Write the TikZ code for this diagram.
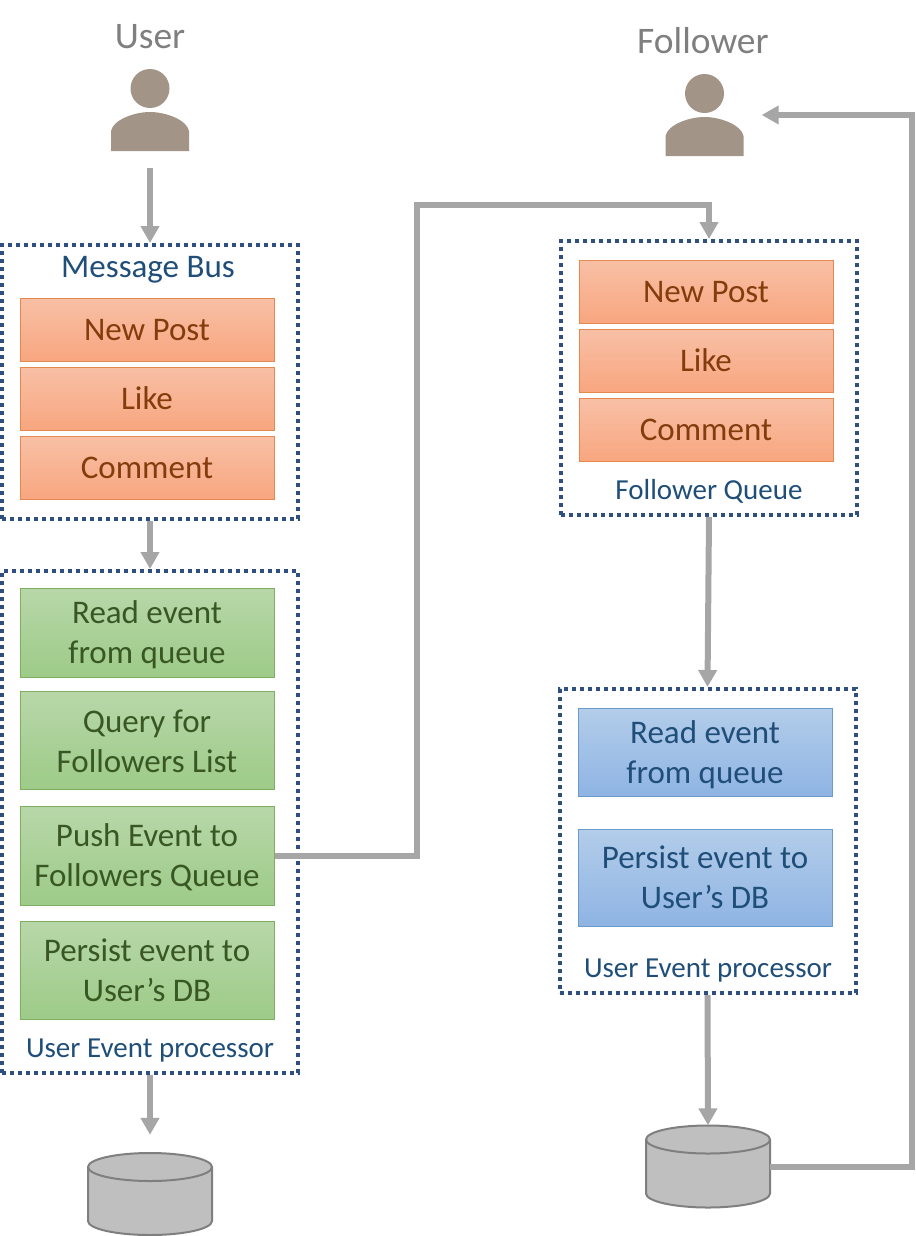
\documentclass[tikz,border=0pt]{standalone}
\usepackage{fontspec}
\setmainfont{Carlito}
\usetikzlibrary{arrows.meta,positioning}
\definecolor{FlowGray}{HTML}{A6A6A6}
\definecolor{PersonTaupe}{HTML}{A29588}
\definecolor{TitleGray}{HTML}{7F7F7F}
\definecolor{FrameNavy}{HTML}{2F4F80}
\definecolor{LabelNavy}{HTML}{1F4E79}
\definecolor{QueueTop}{HTML}{F8C0A6}
\definecolor{QueueLow}{HTML}{F8A67F}
\definecolor{QueueEdge}{HTML}{E5884F}
\definecolor{QueueText}{HTML}{843C0C}
\definecolor{StepTop}{HTML}{B8D7A9}
\definecolor{StepLow}{HTML}{9DCB88}
\definecolor{StepEdge}{HTML}{7FAE62}
\definecolor{StepText}{HTML}{385723}
\definecolor{BlueTop}{HTML}{B3CDEA}
\definecolor{BlueLow}{HTML}{8FB4E3}
\definecolor{BlueEdge}{HTML}{6C9BCB}
\definecolor{DbFill}{HTML}{BFBFBF}
\definecolor{DbEdge}{HTML}{7F7F7F}
\tikzset{
  flow/.style={line width=6pt,FlowGray,-{Triangle[length=17pt,width=18pt]}},
  frame/.style={draw=FrameNavy,line width=4pt,dash pattern=on 4pt off 4pt,minimum width=296pt},
  card/.style={draw,line width=1pt,minimum width=254pt,align=center,font=\fontsize{33}{40}\selectfont},
  lift/.style={execute at begin node={\rule{0pt}{#1pt}}},
  queuecard/.style={card,draw=QueueEdge,top color=QueueTop,bottom color=QueueLow,text=QueueText,minimum height=63pt},
  stepcard/.style={card,draw=StepEdge,top color=StepTop,bottom color=StepLow,text=StepText},
  bluecard/.style={card,draw=BlueEdge,top color=BlueTop,bottom color=BlueLow,text=LabelNavy},
  framelabel/.style={text=LabelNavy,font=\fontsize{29}{34}\selectfont},
  title/.style={text=TitleGray,font=\fontsize{37.5}{44}\selectfont},
  iconbox/.style={minimum width=78pt,minimum height=82pt,inner sep=0pt},
  storebox/.style={minimum width=124pt,minimum height=82pt,inner sep=0pt},
  personicon/.pic={\fill[PersonTaupe] (0,-21.5) circle (19.5);
    \fill[PersonTaupe] (-39,41) -- (-39,21) .. controls (-37,10) and (-16,2) .. (0,2) .. controls (16,2) and (37,10) .. (39,21) -- (39,41) -- cycle;},
  storeicon/.pic={\draw[DbEdge,line width=2pt,fill=DbFill] (-62,-27) arc (180:360:62 and 14) -- (62,27) arc (0:180:62 and 14) -- cycle;
    \draw[DbEdge,line width=2pt] (-62,-27) arc (180:0:62 and 14);}
}
\begin{document}
\begin{tikzpicture}[x=1pt,y=-1pt]
\useasboundingbox (0,0) rectangle (915,1236);
\node[title] (userTitle) at (150,37) {User};
\node[title] (followerTitle) at (703,41) {Follower};
\node[iconbox] (user) at (150,110) {};
\pic at (user) {personicon};
\node[iconbox] (follower) at (704.5,115) {};
\pic at (follower) {personicon};

\node[frame,minimum height=274pt] (bus) at (150,382) {};
\node[framelabel,font=\fontsize{33}{38}\selectfont] (busLabel) at (148,270) {Message Bus};
\node[queuecard,lift=23] (busPost) at (147,329.5) {New Post};
\node[queuecard] (busLike) at (147,398.5) {Like};
\node[queuecard] (busComment) at (147,467.5) {Comment};

\node[frame,minimum height=502pt] (userProc) at (150,822) {};
\node[stepcard,lift=67,minimum height=89pt] (userRead) at (147,632.5) {Read event\\from queue};
\node[stepcard,lift=65,minimum height=98pt] (userQuery) at (147,740) {Query for\\Followers List};
\node[stepcard,lift=67,minimum height=99pt] (userPush) at (147,855.5) {Push Event to\\Followers Queue};
\node[stepcard,minimum height=98pt] (userPersist) at (147,970) {Persist event to\\User’s DB};
\node[framelabel] (userProcLabel) at (150,1051) {User Event processor};
\node[storebox] (userDb) at (150,1194) {};
\pic at (userDb) {storeicon};

\node[frame,minimum height=274pt] (followerQueue) at (709,378) {};
\node[queuecard,lift=23] (followerPost) at (706,291.5) {New Post};
\node[queuecard] (followerLike) at (706,360.5) {Like};
\node[queuecard] (followerComment) at (706,429.5) {Comment};
\node[framelabel] (followerQueueLabel) at (709,491) {Follower Queue};

\node[frame,minimum height=304pt] (followerProc) at (707.5,841) {};
\node[bluecard,lift=69,minimum height=88pt] (followerRead) at (705,752) {Read event\\from queue};
\node[bluecard,minimum height=97pt] (followerPersist) at (705,877.5) {Persist event to\\User’s DB};
\node[framelabel] (followerProcLabel) at (708,971) {User Event processor};
\node[storebox] (followerDb) at (708,1166.5) {};
\pic at (followerDb) {storeicon};

\coordinate (pushBend) at (417,205);
\coordinate (dbBend) at (912,115);
\draw[flow,shorten <=17pt] (user.south) -- (bus.north);
\draw[flow] (bus.south) -- (userProc.north);
\draw[flow,shorten >=18pt] (userProc.south) -- (userDb.north);
\draw[flow] (userPush.east) -| (pushBend) -| (followerQueue.north);
\draw[flow] (followerQueue.south) -- (followerProc.north);
\draw[flow] (followerProc.south) -- (followerDb.north);
\draw[flow,shorten >=18pt] (followerDb.east) -| (dbBend) -- (follower.east);
\end{tikzpicture}
\end{document}
